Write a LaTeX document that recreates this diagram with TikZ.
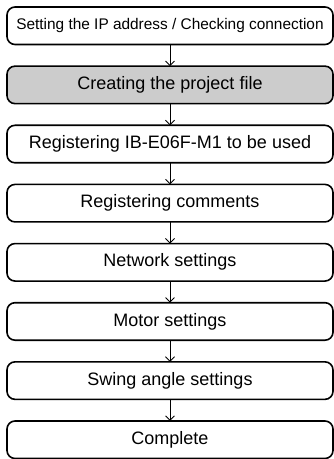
\documentclass[tikz,border=0pt]{standalone}
\usepackage{fontspec}
\setmainfont{Liberation Sans}
\usetikzlibrary{positioning, arrows.meta}

\tikzset{
  flowbox/.style={draw, line width=1.6pt, rounded corners=8pt, outer sep=0pt,
    minimum width=326pt, minimum height=37.5pt, inner sep=0pt,
    font=\fontsize{18}{20}\selectfont},
  hlbox/.style={flowbox, fill=black!20},
  flowarrow/.style={-{Straight Barb[length=4.5pt,width=9pt]}, line width=0.9pt}
}

\begin{document}
\begin{tikzpicture}

  % Frame
  \useasboundingbox (0pt,0pt) rectangle (334pt,-459pt);

  % Steps
  \node[flowbox, font=\fontsize{15.4}{17}\selectfont] (ipset) at (170pt,-25.75pt)
    {Setting the IP address / Checking connection};
  \node[hlbox, below=21.64pt of ipset] (project) {Creating the project file};
  \node[flowbox, below=21.64pt of project] (register) {Registering IB-E06F-M1 to be used};
  \node[flowbox, below=21.64pt of register] (comments) {Registering comments};
  \node[flowbox, below=21.64pt of comments] (network) {Network settings};
  \node[flowbox, below=21.64pt of network] (motor) {Motor settings};
  \node[flowbox, below=21.64pt of motor] (swing) {Swing angle settings};
  \node[flowbox, below=21.64pt of swing] (complete) {Complete};

  % Arrows
  \foreach \a/\b in {ipset/project, project/register, register/comments,
      comments/network, network/motor, motor/swing, swing/complete}
    \draw[flowarrow] (\a) -- (\b);

\end{tikzpicture}
\end{document}
